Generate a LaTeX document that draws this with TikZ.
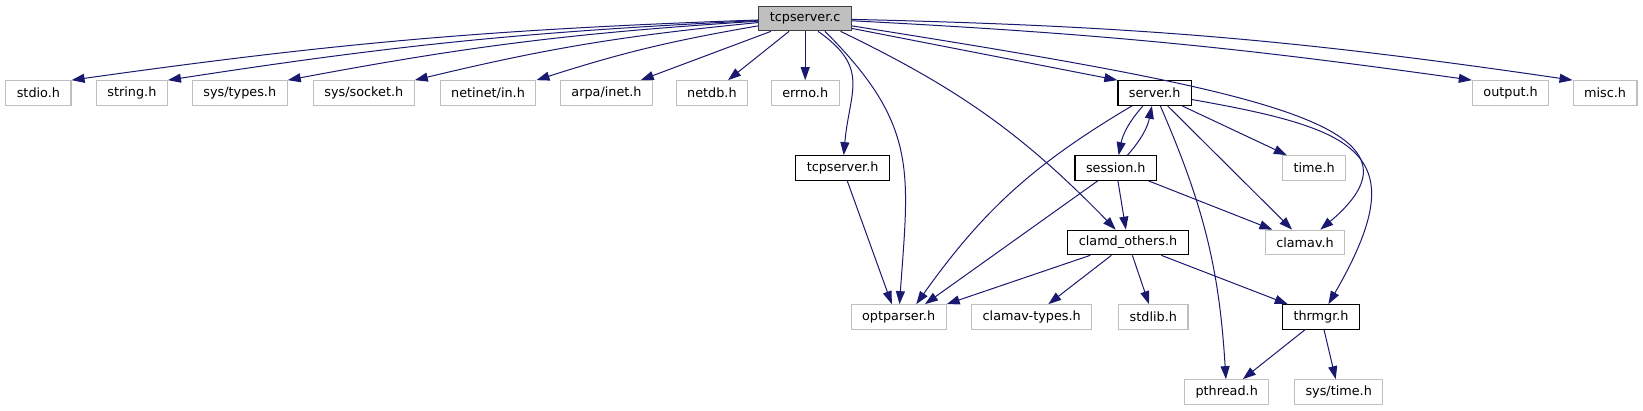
\documentclass[tikz,border=0pt]{standalone}
\usepackage{fontspec}
\setmainfont{DejaVu Sans}
\usetikzlibrary{arrows.meta,positioning}
\definecolor{depblue}{HTML}{191970}
\definecolor{hdrgrey}{HTML}{BFBFBF}
\definecolor{rootfill}{HTML}{BFBFBF}
\definecolor{rootline}{HTML}{404040}
\tikzset{
  >={Triangle[length=13pt,width=9pt]},
  font=\fontsize{12.8}{15}\selectfont,
  hdr/.style  ={draw=hdrgrey, line width=1.2pt, minimum height=24.5pt, inner xsep=11pt, inner ysep=0pt},
  doc/.style  ={hdr, draw=black},
  root/.style ={hdr, draw=rootline, fill=rootfill},
  dep/.style  ={->, draw=depblue, line width=1pt},
}

\begin{document}
\begin{tikzpicture}[x=1pt, y=-1pt]
  \useasboundingbox (0,0) rectangle (1643,411);

  \node[root] (tc) at (805.2,18.5) {tcpserver.c};

  \node[hdr] (stdio)   at (38.4,93)   {stdio.h};
  \node[hdr] (string)  at (131.9,93)  {string.h};
  \node[hdr] (types)   at (239.8,93)  {sys/types.h};
  \node[hdr] (socket)  at (363.8,93)  {sys/socket.h};
  \node[hdr] (netinet) at (488,93)    {netinet/in.h};
  \node[hdr] (arpa)    at (606.5,93)  {arpa/inet.h};
  \node[hdr] (netdb)   at (711.9,93)  {netdb.h};
  \node[hdr] (errno)   at (805.2,93)  {errno.h};
  \node[doc] (server)  at (1154.7,93) {server.h};
  \node[hdr] (output)  at (1510.6,93) {output.h};
  \node[hdr] (misc)    at (1605.1,93) {misc.h};

  \node[doc] (tcph)    at (842.6,168)  {tcpserver.h};
  \node[doc] (session) at (1115.8,168) {session.h};
  \node[hdr] (time)    at (1314.2,168) {time.h};

  \node[doc] (clamd)   at (1128,242.5) {clamd\_others.h};
  \node[hdr] (clamav)  at (1305,242.5) {clamav.h};

  \node[hdr] (optp)    at (898.6,317)  {optparser.h};
  \node[hdr] (ctypes)  at (1031.7,317) {clamav-types.h};
  \node[hdr] (stdlib)  at (1153.3,317) {stdlib.h};
  \node[doc] (thrmgr)  at (1321,317)   {thrmgr.h};

  \node[hdr] (pthread) at (1226.7,392) {pthread.h};
  \node[hdr] (systime) at (1338.7,392) {sys/time.h};

  % tcpserver.c includes
  \draw[dep] (tc) to[bend right=3]   (stdio.north east);
  \draw[dep] (tc) to[bend right=3]   (string.north east);
  \draw[dep] (tc) to[bend right=3.5] (types.north east);
  \draw[dep] (tc) to[bend right=4]   (socket.north east);
  \draw[dep] (tc) to[bend right=4]   (netinet.north east);
  \draw[dep] (tc) -- (arpa);
  \draw[dep] (tc) -- (netdb);
  \draw[dep] (tc) -- (errno);
  \draw[dep] (tc.-45) to[out=-35, in=85, looseness=1.3] (tcph);
  \draw[dep] (tc.-33) to[out=-45, in=86, looseness=1.2] (optp);
  \draw[dep] (tc.-20) to[bend left=10] (clamd);
  \draw[dep] (tc.-12) -- (server.north west);
  \draw[dep] (tc) to[out=-9, in=40, out looseness=2.1, in looseness=0.8] (clamav);
  \draw[dep] (tc) to[bend left=2.5] (output.north west);
  \draw[dep] (tc) to[bend left=3.5] (misc.north west);

  % server.h
  \draw[dep] (server) to[bend right=12] (optp.36);
  \draw[dep] (server) to[bend right=15] (session);
  \draw[dep] (session) to[bend right=15] (server);
  \draw[dep] (server) -- (time);
  \draw[dep] (server) -- (clamav);
  \draw[dep] (server) to[bend left=10] (pthread);
  \draw[dep] (server) to[out=-10, in=60, looseness=1.8] (thrmgr);

  % session.h, tcpserver.h
  \draw[dep] (session) -- (optp.26);
  \draw[dep] (session) -- (clamd);
  \draw[dep] (session) -- (clamav);
  \draw[dep] (tcph) -- (optp.118);

  % clamd_others.h
  \draw[dep] (clamd) -- (optp.north east);
  \draw[dep] (clamd) -- (ctypes);
  \draw[dep] (clamd) -- (stdlib);
  \draw[dep] (clamd) -- (thrmgr);

  % thrmgr.h
  \draw[dep] (thrmgr) -- (pthread);
  \draw[dep] (thrmgr) -- (systime);
\end{tikzpicture}
\end{document}
